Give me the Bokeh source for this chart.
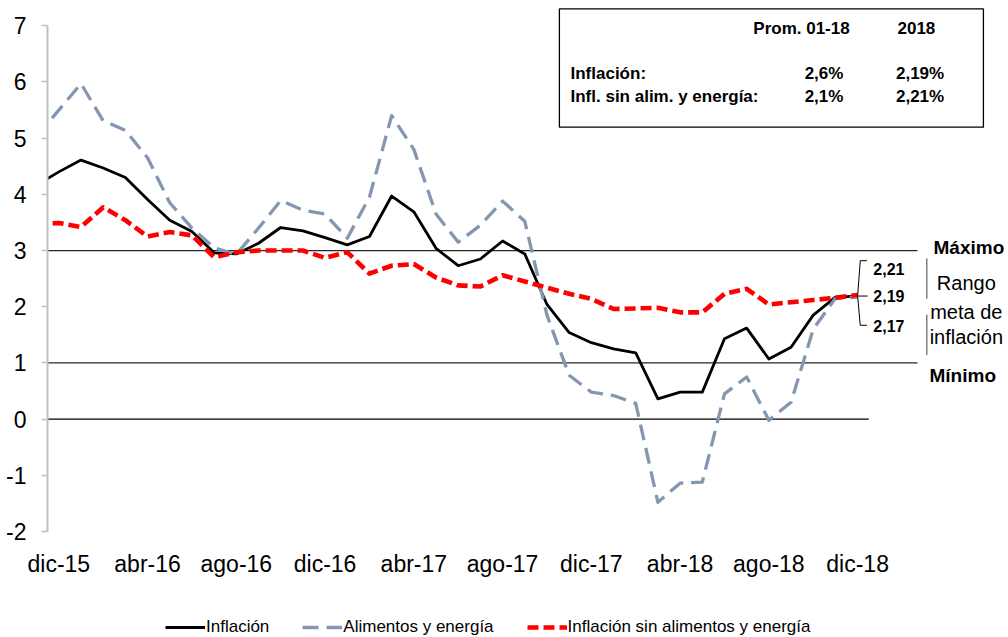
import numpy as np
from bokeh.plotting import figure
from bokeh.layouts import column
from bokeh.models import Legend, LegendItem, FixedTicker, Range1d
from bokeh.core.properties import value
from bokeh.embed import file_html
from bokeh.resources import INLINE

# ---------------- data ----------------
mes = ["ene", "feb", "mar", "abr", "may", "jun", "jul", "ago", "sep", "oct", "nov", "dic"]
months = ["nov-15", "dic-15"] + [f"{m}-{y}" for y in (16, 17, 18) for m in mes]

inflacion = [4.17, 4.40,
             4.61, 4.47, 4.30, 3.91, 3.54, 3.34, 2.96, 2.94, 3.13, 3.41, 3.35, 3.23,
             3.10, 3.25, 3.97, 3.69, 3.04, 2.73, 2.85, 3.17, 2.94, 2.04, 1.54, 1.36,
             1.25, 1.18, 0.36, 0.48, 0.48, 1.43, 1.62, 1.07, 1.28, 1.85, 2.17, 2.19]
alimentos_energia = [5.03, 5.50,
                     5.97, 5.31, 5.14, 4.65, 3.85, 3.40, 3.05, 2.93, 3.40, 3.89, 3.72, 3.65,
                     3.22, 3.95, 5.40, 4.80, 3.65, 3.15, 3.45, 3.88, 3.52, 1.85, 0.78, 0.48,
                     0.42, 0.28, -1.48, -1.14, -1.12, 0.45, 0.75, -0.02, 0.30, 1.60, 2.15, 2.17]
sin_alim_energia = [3.47, 3.49,
                    3.42, 3.77, 3.54, 3.25, 3.33, 3.27, 2.88, 2.97, 3.00, 3.00, 3.00, 2.87,
                    2.97, 2.59, 2.73, 2.76, 2.52, 2.38, 2.36, 2.56, 2.45, 2.34, 2.23, 2.14,
                    1.96, 1.97, 1.98, 1.90, 1.90, 2.23, 2.32, 2.04, 2.08, 2.12, 2.16, 2.21]

tick_labels = ["dic-15", "abr-16", "ago-16", "dic-16", "abr-17", "ago-17",
               "dic-17", "abr-18", "ago-18", "dic-18"]
y_ticks = [-2, -1, 0, 1, 2, 3, 4, 5, 6, 7]

meta_min, meta_max = 1, 3

table_cols = ["Prom. 01-18", "2018"]
table_rows = ["Inflación:", "Infl. sin alim. y energía:"]
table_vals = [["2,6%", "2,19%"], ["2,1%", "2,21%"]]

series_names = ["Inflación", "Alimentos y energía", "Inflación sin alimentos y energía"]

# ---------------- figure ----------------
FONT = value("Liberation Sans")
x = np.arange(len(months)) - 1  # dic-15 -> 0
x0 = -0.51

p = figure(width=1008, height=612, x_range=Range1d(x0, 42.80), y_range=Range1d(-2, 7.45),
           output_backend="svg", toolbar_location=None,
           min_border_left=47, min_border_right=0, min_border_top=0, min_border_bottom=81)
p.outline_line_color = None
p.xgrid.visible = False
p.ygrid.visible = False

# axes
tick_pos = [months.index(t) - 1 for t in tick_labels]
p.xaxis.ticker = FixedTicker(ticks=tick_pos)
p.xaxis.major_label_overrides = {tp: tl for tp, tl in zip(tick_pos, tick_labels)}
p.xaxis.axis_line_color = None
p.xaxis.major_tick_line_color = None
p.xaxis.minor_tick_line_color = None
p.xaxis.major_label_text_font = "Liberation Sans"
p.xaxis.major_label_text_font_size = "23px"
p.xaxis.major_label_text_color = "black"
p.xaxis.major_label_standoff = 13

p.yaxis.ticker = FixedTicker(ticks=y_ticks)
p.yaxis.major_label_overrides = {t: str(t) for t in y_ticks}
p.yaxis.bounds = (-2, 7)
p.yaxis.axis_line_color = "#C0C0C0"
p.yaxis.axis_line_width = 2
p.yaxis.major_tick_line_color = "#C0C0C0"
p.yaxis.major_tick_line_width = 1.5
p.yaxis.major_tick_out = 6
p.yaxis.major_tick_in = 0
p.yaxis.minor_tick_line_color = None
p.yaxis.major_label_text_font = "Liberation Sans"
p.yaxis.major_label_text_font_size = "23px"
p.yaxis.major_label_text_color = "black"
p.yaxis.major_label_standoff = 15

# reference lines
p.segment(x0=[x0, x0], y0=[meta_min, meta_max], x1=[38.7, 38.7], y1=[meta_min, meta_max],
          line_color="#262626", line_width=1.3)
p.segment(x0=[x0], y0=[0], x1=[36.5], y1=[0], line_color="black", line_width=1.2)

# series
line_styles = [dict(line_color="black", line_width=2.8, line_join="round"),
               dict(line_color="#8497B0", line_width=3.3, line_dash="16 8", line_join="round"),
               dict(line_color="#FF0000", line_width=4.6, line_dash="11 5", line_join="round")]
for ys, st in zip([inflacion, alimentos_energia, sin_alim_energia], line_styles):
    p.line(x, ys, **st)

# data labels at dic-18
last_x = x[-1]
last_vals = [sin_alim_energia[-1], inflacion[-1], alimentos_energia[-1]]
label_y = [last_vals[1] + 0.49, last_vals[1], last_vals[1] - 0.53]
hook_y = [last_vals[1] + 0.63, last_vals[1], last_vals[1] - 0.52]
p.multi_line(xs=[[last_x, last_x + 0.12, last_x + 0.42],
                 [last_x, last_x + 0.45],
                 [last_x, last_x + 0.12, last_x + 0.42]],
             ys=[[last_vals[1], hook_y[0], hook_y[0]],
                 [last_vals[1], last_vals[1]],
                 [last_vals[1], hook_y[2], hook_y[2]]],
             line_color="black", line_width=1)
p.text(x=[last_x + 0.71] * 3, y=label_y,
       text=[f"{v:.2f}".replace(".", ",") for v in last_vals],
       text_font=FONT, text_font_size="16px", text_font_style="bold",
       text_align="left", text_baseline="middle", text_color="black")

# brace for target range
ymid = (meta_min + meta_max) / 2
xa, xv, xt, rr = 38.98, 39.12, 39.30, 0.14
p.bezier(x0=[xa, xv, xa, xv], y0=[meta_max, ymid + rr, meta_min, ymid - rr],
         x1=[xv, xt, xv, xt], y1=[meta_max - rr, ymid, meta_min + rr, ymid],
         cx0=[xv, xv, xv, xv], cy0=[meta_max, ymid, meta_min, ymid],
         line_color="#404040", line_width=1)
p.segment(x0=[xv, xv], y0=[meta_max - rr, meta_min + rr], x1=[xv, xv], y1=[ymid + rr, ymid - rr],
          line_color="#404040", line_width=1)

p.text(x=[39.42, 39.24], y=[meta_max + 0.055, meta_min - 0.22], text=["Máximo", "Mínimo"],
       text_font=FONT, text_font_size="19px", text_font_style="bold",
       text_align="left", text_baseline="middle", text_color="black")
p.text(x=[40.9] * 3, y=[ymid + 0.417, ymid - 0.10, ymid - 0.545],
       text=["Rango", "meta de", "inflación"],
       text_font=FONT, text_font_size="20px",
       text_align="center", text_baseline="middle", text_color="black")

# summary table box
p.quad(left=[22.56], right=[41.67], top=[7.30], bottom=[5.196],
       fill_color=None, line_color="black", line_width=1.3)
p.text(x=[33.47, 38.65], y=[6.96, 6.96], text=table_cols,
       text_font=FONT, text_font_size="17px", text_font_style="bold",
       text_align="center", text_baseline="middle", text_color="black")
p.text(x=[23.06, 23.06], y=[6.157, 5.75], text=table_rows,
       text_font=FONT, text_font_size="17px", text_font_style="bold",
       text_align="left", text_baseline="middle", text_color="black")
p.text(x=[35.36, 35.36, 39.9, 39.9], y=[6.157, 5.75, 6.157, 5.75],
       text=[table_vals[0][0], table_vals[1][0], table_vals[0][1], table_vals[1][1]],
       text_font=FONT, text_font_size="17px", text_font_style="bold",
       text_align="right", text_baseline="middle", text_color="black")

# legend strip below the chart (no axes, so the frame spans the whole strip)
pl = figure(width=1008, height=25, x_range=Range1d(0, 1), y_range=Range1d(0, 1),
            output_backend="svg", toolbar_location=None,
            x_axis_location=None, y_axis_location=None,
            min_border_left=0, min_border_right=0, min_border_top=0, min_border_bottom=0)
pl.xgrid.visible = False
pl.ygrid.visible = False
pl.outline_line_color = None
# legend-only renderers: a single NaN point so nothing is drawn in the strip
leg_r = [pl.line([np.nan], [np.nan], **st) for st in line_styles]
legend = Legend(items=[LegendItem(label=n, renderers=[r]) for n, r in zip(series_names, leg_r)],
                location=(118, 0), orientation="horizontal",
                glyph_width=40, glyph_height=18, label_height=18, label_standoff=1,
                spacing=33, padding=0, margin=0, border_line_color=None,
                background_fill_alpha=0,
                label_text_font="Liberation Sans", label_text_font_size="17px",
                label_text_color="black")
pl.add_layout(legend, "center")

layout = column(p, pl, spacing=0)
open("out.html", "w").write(file_html(layout, INLINE))
